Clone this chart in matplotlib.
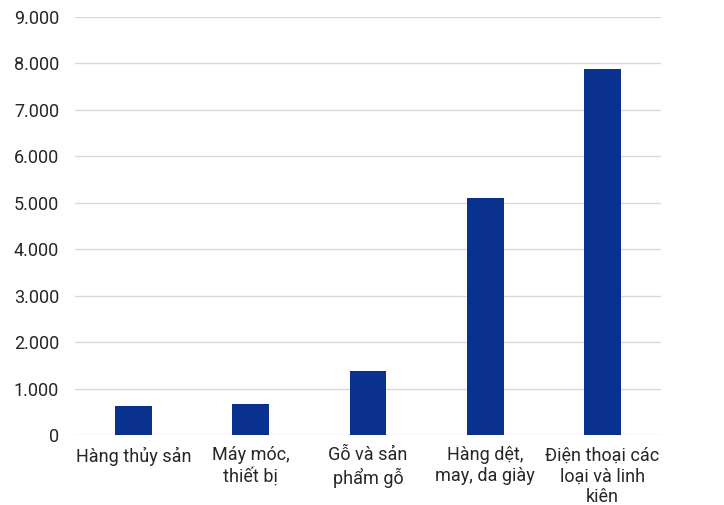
import matplotlib
matplotlib.use('Agg')
from matplotlib import pyplot as plt
from matplotlib.ticker import FuncFormatter

# categories and export values
categories = ['Hàng thủy sản', 'Máy móc,\nthiết bị', 'Gỗ và sản\nphẩm gỗ',
              'Hàng dệt,\nmay, da giày', 'Điện thoại các\nloại và linh\nkiên']
values = [638, 672, 1389, 5100, 7865]
yticks = [0, 1000, 2000, 3000, 4000, 5000, 6000, 7000, 8000, 9000]

plt.rcParams['font.family'] = ['Roboto', 'DejaVu Sans']

fig = plt.figure(figsize=(7.24, 5.05), dpi=100)
ax = fig.add_axes([0.1036, 0.138, 0.8094, 0.829])

x = list(range(len(categories)))
ax.bar(x, values, width=0.315, color='#0b318f', zorder=3)

ax.set_xlim(-0.5, len(categories) - 0.5)
ax.set_ylim(0, 9000)
ax.set_yticks(yticks)
ax.yaxis.set_major_formatter(
    FuncFormatter(lambda v, p: '{:,.0f}'.format(v).replace(',', '.')))
ax.set_xticks(x)
ax.set_xticklabels(categories, linespacing=1.2)

ax.grid(axis='y', color='#d9d9d9', linewidth=1.0, zorder=0)
for s in ax.spines.values():
    s.set_visible(False)
ax.tick_params(axis='both', length=0, labelsize=13, colors='#262626')
ax.tick_params(axis='y', pad=11.5)
ax.tick_params(axis='x', pad=8)

fig.savefig('out.png', dpi=100)
